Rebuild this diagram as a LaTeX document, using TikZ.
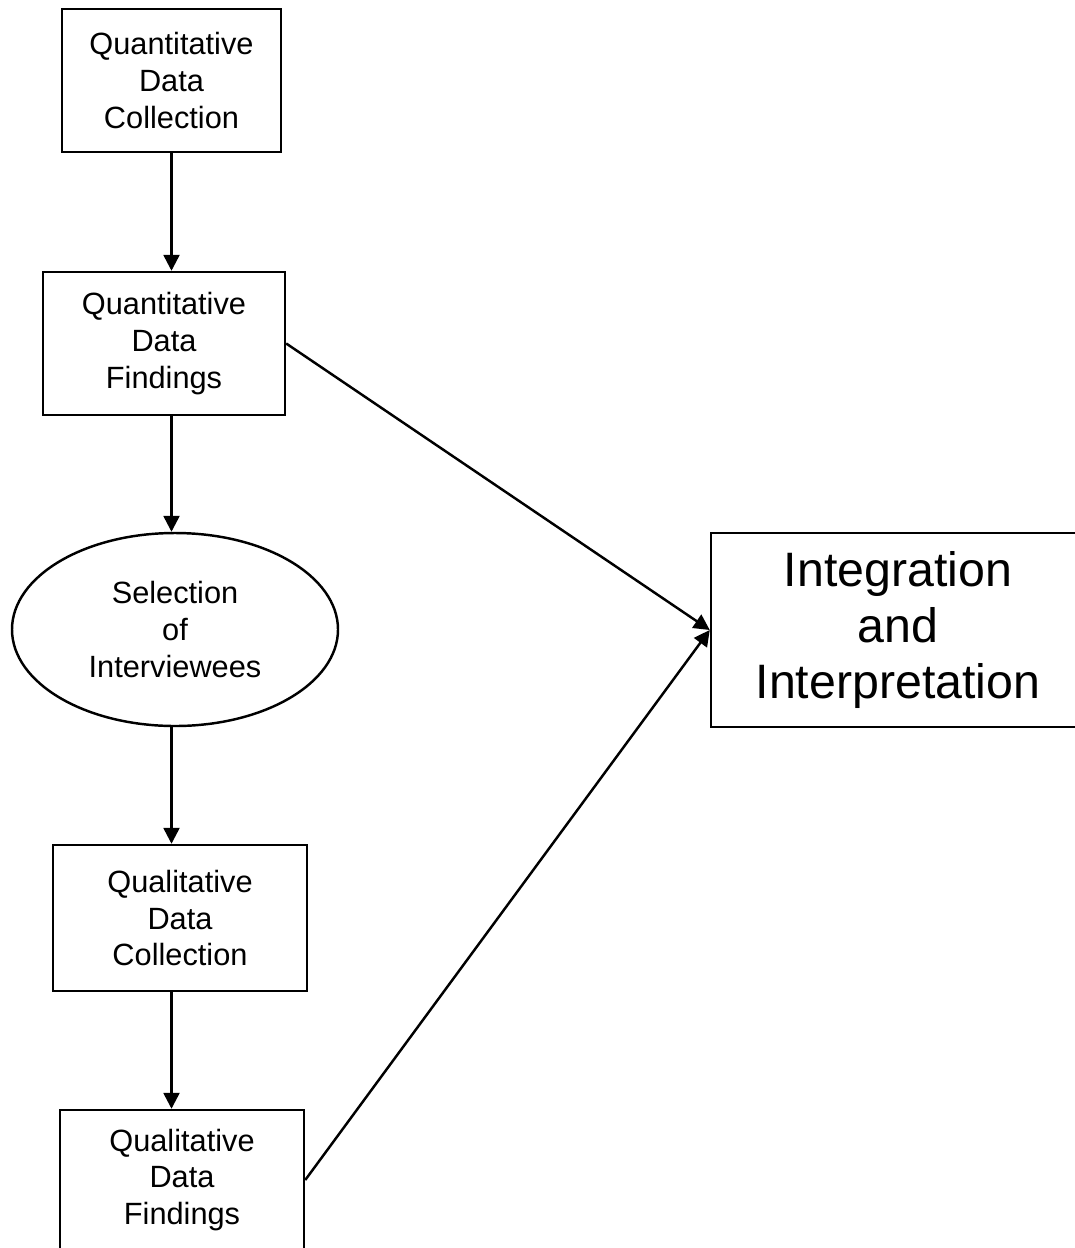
\documentclass[tikz,border=0pt]{standalone}
\usepackage{fontspec}
\setmainfont{Liberation Sans}
\usetikzlibrary{arrows.meta,shapes.geometric}

\begin{document}
\begin{tikzpicture}[
    x=0.02cm,y=-0.02cm,
    every node/.style={font=\fontsize{17.5}{21}\selectfont, align=center},
    frame/.style={draw=black, line width=1.4pt},
    stage/.style={frame, rectangle, inner sep=0pt},
    pick/.style={frame, ellipse, inner sep=0pt, minimum width=326*0.02cm, minimum height=193*0.02cm},
    bigbox/.style={frame, rectangle, inner sep=0pt, font=\fontsize{27.5}{32}\selectfont},
    arr/.style={line width=1.4pt, -{Triangle[length=9pt,width=9pt]}}
]
    \useasboundingbox (0,0) rectangle (1075,1248);

    % left column
    \node[stage, minimum width=219*0.02cm, minimum height=143*0.02cm] (qncoll) at (171.5,80.5) {Quantitative\\Data\\Collection};
    \node[stage, minimum width=242*0.02cm, minimum height=143*0.02cm] (qnfind) at (164,343.5) {Quantitative\\Data\\Findings};
    \node[pick] (select) at (175,629.5) {Selection\\of\\Interviewees};
    \node[stage, minimum width=254*0.02cm, minimum height=146*0.02cm] (qlcoll) at (180,918) {Qualitative\\Data\\Collection};
    \node[stage, minimum width=244*0.02cm, minimum height=140*0.02cm] (qlfind) at (182,1180) {Qualitative\\Data\\Findings};

    % right box
    \node[bigbox, minimum width=374*0.02cm, minimum height=194*0.02cm] (integ) at (898,630) {Integration\\and\\Interpretation};

    % vertical flow
    \draw[arr] (qncoll.south) -- (qncoll.south |- qnfind.north);
    \draw[arr] (qnfind.south -| qncoll.south) -- (select.north -| qncoll.south);
    \draw[arr] (select.south -| qncoll.south) -- (qlcoll.north -| qncoll.south);
    \draw[arr] (qlcoll.south -| qncoll.south) -- (qlfind.north -| qncoll.south);

    % into integration
    \draw[arr] (qnfind.east) -- (integ.west);
    \draw[arr] (qlfind.east) -- (integ.west);
\end{tikzpicture}
\end{document}
